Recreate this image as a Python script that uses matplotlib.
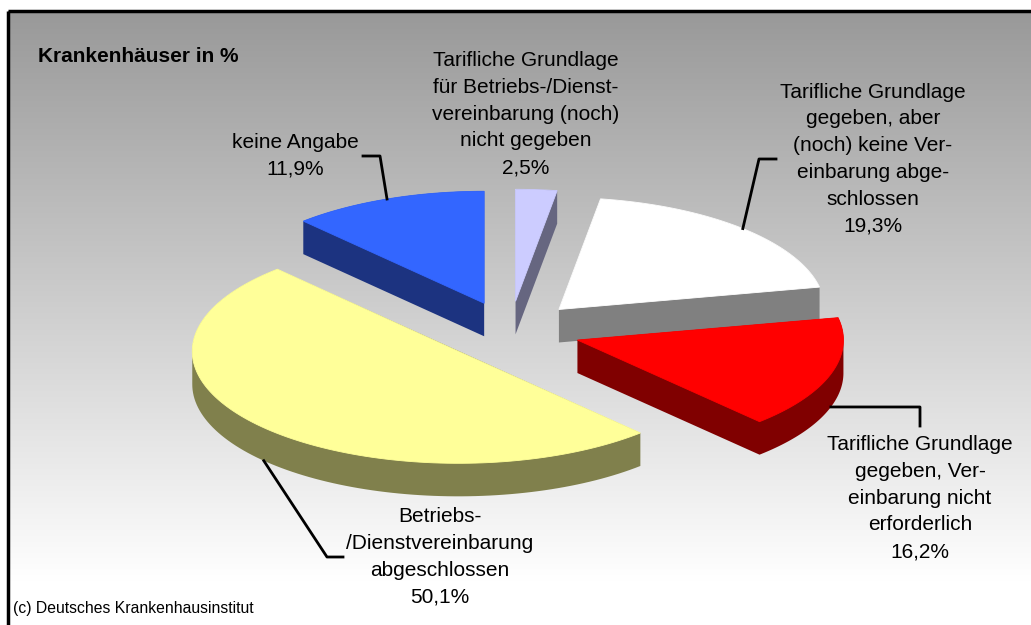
import numpy as np
import matplotlib
matplotlib.use('Agg')
import matplotlib.pyplot as plt
from matplotlib.patches import Polygon

plt.rcParams['font.family'] = ['Liberation Sans', 'DejaVu Sans']

# data (percent), clockwise from 12 o'clock
labels = ['Tarifliche Grundlage\nfür Betriebs-/Dienst-\nvereinbarung (noch)\nnicht gegeben',
          'Tarifliche Grundlage\ngegeben, aber\n(noch) keine Ver-\neinbarung abge-\nschlossen',
          'Tarifliche Grundlage\ngegeben, Ver-\neinbarung nicht\nerforderlich',
          'Betriebs-\n/Dienstvereinbarung\nabgeschlossen',
          'keine Angabe']
values = [2.5, 19.3, 16.2, 50.1, 11.9]
top_colors = ['#ccccff', '#ffffff', '#ff0000', '#ffff99', '#3366ff']
side_colors = ['#666680', '#808080', '#800000', '#80804c', '#1c3380']

# label layout (pixel coords, y down): text centre, leader elbow, leader end
text_pos = [(526, 114), (873, 159), (920, 498), (440, 557), (295, 156)]
leader = [None, [(759, 159), (776, 159)], [(920, 407), (920, 426)],
          [(327, 557), (343, 557)], [(380, 156), (363, 156)]]

W, H = 1031, 625
cx, cy, rx, ry = 510, 331, 266, 112
explode, depth = 0.266, 33


def rim(x0, y0, a):
    return x0 + rx * np.sin(a), y0 - ry * np.cos(a)


def hull(pts):
    pts = sorted(set(map(tuple, np.round(pts, 3))))
    def half(p):
        out = []
        for q in p:
            while len(out) >= 2 and ((out[-1][0] - out[-2][0]) * (q[1] - out[-2][1])
                                     - (out[-1][1] - out[-2][1]) * (q[0] - out[-2][0])) <= 0:
                out.pop()
            out.append(q)
        return out
    lo, up = half(pts), half(pts[::-1])
    return lo[:-1] + up[:-1]


fig = plt.figure(figsize=(W / 100, H / 100), dpi=100)
ax = fig.add_axes([0, 0, 1, 1])
ax.set_xlim(0, W)
ax.set_ylim(H, 0)
ax.axis('off')

# background gradient and frame
grad = np.clip(np.linspace(0.6, 1.02, 300), 0, 1)[:, None]
ax.imshow(np.repeat(grad[:, :, None], 3, axis=2), extent=[8, W, 610, 11],
          aspect='auto', interpolation='bilinear', zorder=0)
ax.plot([8, W], [11, 11], color='black', lw=2.5, zorder=1, solid_capstyle='butt')
ax.plot([8, 8], [11, H], color='black', lw=2.5, zorder=1, solid_capstyle='butt')

# slices
bounds = np.concatenate([[0], np.cumsum(values)]) / 100 * 2 * np.pi
slices = []
for i, v in enumerate(values):
    a0, a1 = bounds[i], bounds[i + 1]
    mid = (a0 + a1) / 2
    x0 = cx + explode * rx * np.sin(mid)
    y0 = cy - explode * ry * np.cos(mid)
    t = np.linspace(a0, a1, 120)
    top = np.vstack([[x0, y0], np.column_stack(rim(x0, y0, t))])
    slices.append((y0, i, top, x0, mid))

for y0, i, top, x0, mid in sorted(slices):
    bot = top + [0, depth]
    side = hull(np.vstack([top, bot]))
    ax.add_patch(Polygon(side, closed=True, fc=side_colors[i], ec='none', zorder=2 + y0 / 1000))
    ax.add_patch(Polygon(top, closed=True, fc=top_colors[i], ec=top_colors[i], lw=0.6,
                         zorder=2.5 + y0 / 1000))

    # label and leader line
    tx, ty = text_pos[i]
    ax.text(tx, ty, f'{labels[i]}\n{values[i]:.1f}%'.replace('.', ','), ha='center', va='center',
            fontsize=15, linespacing=1.52, zorder=5)
    if leader[i] is not None:
        ax_, ay_ = rim(x0, y0, mid)
        if np.pi / 2 < mid < 3 * np.pi / 2:
            ay_ += depth
        xs = [ax_] + [p[0] for p in leader[i]]
        ys = [ay_] + [p[1] for p in leader[i]]
        ax.plot(xs, ys, color='black', lw=2, zorder=5)

ax.text(38, 57, 'Krankenhäuser in %', fontsize=15, fontweight='bold', va='center', ha='left')
ax.text(13, 608, '(c) Deutsches Krankenhausinstitut', fontsize=11.3, va='center', ha='left')

plt.savefig('out.png', dpi=100)
